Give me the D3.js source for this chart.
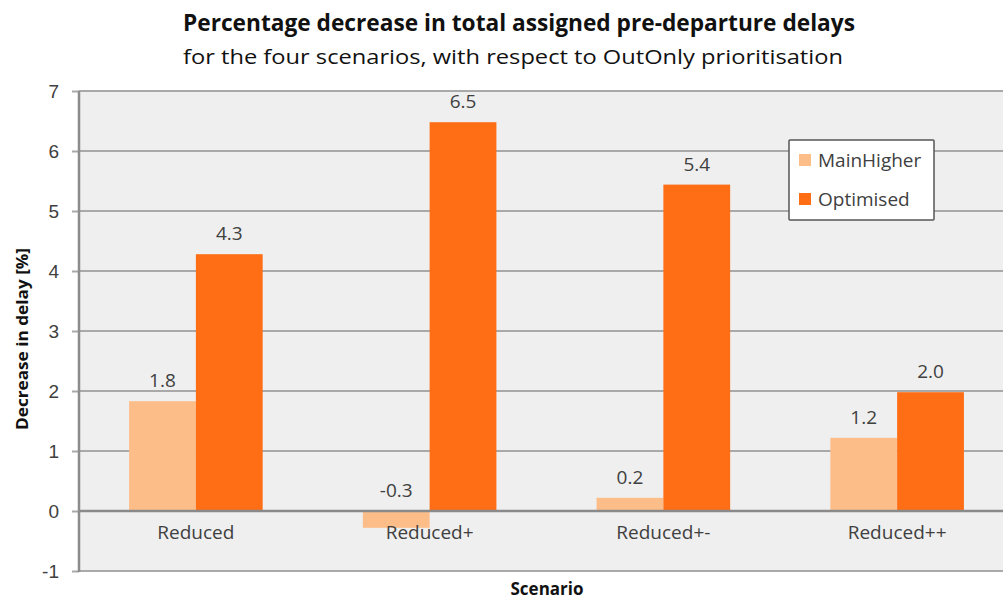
<!DOCTYPE html>
<html>
<head>
<meta charset="utf-8">
<script src="https://cdn.jsdelivr.net/npm/d3@7"></script>
<style>
  body { margin: 0; background: #fff; }
  svg { display: block; font-family: "Open Sans", "Noto Sans", sans-serif; }
</style>
</head>
<body>
<svg id="chart" width="1003" height="599"></svg>
<script>
const scenarios = ["Reduced", "Reduced+", "Reduced+-", "Reduced++"];
const seriesNames = ["MainHigher", "Optimised"];
const mainHigher = [1.83, -0.28, 0.22, 1.22];
const optimised = [4.28, 6.48, 5.44, 1.98];
const yTicks = [-1, 0, 1, 2, 3, 4, 5, 6, 7];

const COLORS = {MainHigher: "#fdbd89", Optimised: "#ff6d14"};
const TEXT = "#404040";
const GRID = "#a9a9a9";
const FS = 19;

// excel style numbers, plain hyphen for negatives
const fmt1 = v => d3.format(".1f")(v).replace("\u2212", "-");
const fmt0 = v => d3.format("d")(v).replace("\u2212", "-");

const svg = d3.select("#chart");
const plot = {left: 79, right: 1014, top: 91, bottom: 571};

// plot area runs off the right edge like the original
svg.append("rect")
    .attr("x", plot.left).attr("y", plot.top)
    .attr("width", plot.right - plot.left).attr("height", plot.bottom - plot.top)
    .attr("fill", "#efefef");

let x = d3.scaleBand()
    .domain(scenarios)
    .range([plot.left, plot.right])
    .paddingInner(0).paddingOuter(0);

let xs = d3.scaleBand()
    .domain(seriesNames)
    .range([0, x.bandwidth()])
    .paddingOuter(0.75).paddingInner(0);

let y = d3.scaleLinear()
    .domain([-1, 7])
    .range([plot.bottom, plot.top]);

// y axis ticks
const yAxis = d3.axisLeft(y).tickValues(yTicks).tickSize(7).tickPadding(13).tickFormat(fmt0);
const ya = svg.append("g")
    .attr("transform", `translate(${plot.left},0)`)
    .call(yAxis);
ya.select(".domain").remove();
ya.selectAll(".tick line").attr("stroke", GRID).attr("stroke-width", 2);
ya.selectAll(".tick text").attr("fill", TEXT).attr("font-size", FS);

// gridlines
svg.append("g").selectAll("line")
    .data(yTicks)
    .join("line")
    .attr("x1", plot.left).attr("x2", plot.right)
    .attr("y1", d => y(d)).attr("y2", d => y(d))
    .attr("stroke", GRID)
    .attr("stroke-width", 2);

// bars
const rows = scenarios.map((s, i) => ({scenario: s, MainHigher: mainHigher[i], Optimised: optimised[i]}));

const groups = svg.append("g").selectAll("g")
    .data(rows)
    .join("g")
    .attr("transform", d => `translate(${x(d.scenario)},0)`);

groups.selectAll("rect")
    .data(d => seriesNames.map(k => ({key: k, value: d[k]})))
    .join("rect")
    .attr("x", d => xs(d.key))
    .attr("width", xs.bandwidth())
    .attr("y", d => y(Math.max(0, d.value)))
    .attr("height", d => Math.abs(y(d.value) - y(0)))
    .attr("fill", d => COLORS[d.key]);

groups.selectAll("text.val")
    .data(d => seriesNames.map(k => ({key: k, value: d[k]})))
    .join("text")
    .attr("class", "val")
    .attr("x", d => xs(d.key) + xs.bandwidth() / 2)
    .attr("y", d => y(Math.max(0, d.value)) - 14)
    .attr("text-anchor", "middle")
    .attr("fill", TEXT)
    .attr("font-size", FS)
    .text(d => fmt1(d.value));

// zero line over the bars
svg.append("line")
    .attr("x1", plot.left).attr("x2", plot.right)
    .attr("y1", y(0)).attr("y2", y(0))
    .attr("stroke", "#8a8a8a").attr("stroke-width", 2.5);

// category labels
svg.append("g").selectAll("text")
    .data(scenarios)
    .join("text")
    .attr("x", d => x(d) + x.bandwidth() / 2)
    .attr("y", y(0) + 28)
    .attr("text-anchor", "middle")
    .attr("fill", TEXT)
    .attr("font-size", FS)
    .text(d => d);

// y axis line
svg.append("line")
    .attr("x1", plot.left).attr("x2", plot.left)
    .attr("y1", plot.top).attr("y2", plot.bottom + 1)
    .attr("stroke", "#8c8c8c").attr("stroke-width", 2.5);

// titles
svg.append("text")
    .attr("x", 519).attr("y", 31)
    .attr("text-anchor", "middle")
    .attr("font-size", 23).attr("font-weight", "bold")
    .attr("fill", "#111")
    .attr("textLength", 672).attr("lengthAdjust", "spacingAndGlyphs")
    .text("Percentage decrease in total assigned pre-departure delays");

svg.append("text")
    .attr("x", 513).attr("y", 64)
    .attr("text-anchor", "middle")
    .attr("font-size", 20)
    .attr("fill", "#111")
    .attr("textLength", 660).attr("lengthAdjust", "spacingAndGlyphs")
    .text("for the four scenarios,  with respect to OutOnly prioritisation");

svg.append("text")
    .attr("transform", `translate(28,${339}) rotate(-90)`)
    .attr("text-anchor", "middle")
    .attr("font-size", 16).attr("font-weight", "bold")
    .attr("fill", "#111")
    .attr("textLength", 182).attr("lengthAdjust", "spacingAndGlyphs")
    .text("Decrease in delay [%]");

svg.append("text")
    .attr("x", 547).attr("y", 595)
    .attr("text-anchor", "middle")
    .attr("font-size", 17).attr("font-weight", "bold")
    .attr("fill", "#111")
    .text("Scenario");

// legend
const legend = svg.append("g").attr("transform", "translate(789,140)");
legend.append("rect")
    .attr("width", 145).attr("height", 80)
    .attr("fill", "#fff").attr("stroke", "#555").attr("stroke-width", 1.5).attr("rx", 1);
legend.selectAll("g")
    .data(seriesNames)
    .join("g")
    .attr("transform", (d, i) => `translate(10,${20 + i * 39})`)
    .each(function(d) {
        const g = d3.select(this);
        g.append("rect").attr("x", 0).attr("y", -6).attr("width", 12).attr("height", 12).attr("fill", COLORS[d]);
        g.append("text").attr("x", 19).attr("y", 7).attr("font-size", FS).attr("fill", TEXT).text(d);
    });
</script>
</body>
</html>
